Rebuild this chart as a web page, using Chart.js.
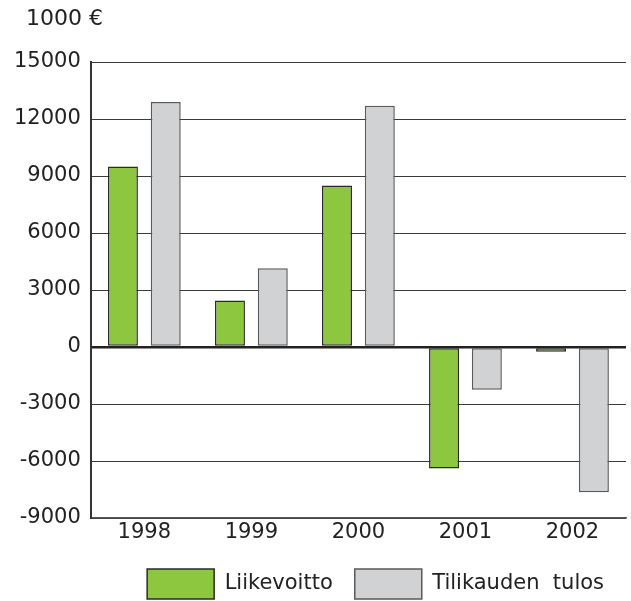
<!DOCTYPE html>
<html>
<head>
<meta charset="utf-8">
<script src="https://cdn.jsdelivr.net/npm/chart.js@4"></script>
<style>
  body { margin: 0; background: #fff; }
  #wrap { position: relative; width: 631px; height: 601px; overflow: hidden; }
  #unit { position: absolute; left: 26px; top: 5px; font: 22px "DejaVu Sans"; color: #222; }
</style>
</head>
<body>
<div id="wrap">
  <div id="unit">1000 €</div>
  <canvas id="chart" width="631" height="601"></canvas>
</div>
<script>
const years = ['1998', '1999', '2000', '2001', '2002'];
const liikevoitto = [9500, 2450, 8500, -6400, -250];
const tilikaudenTulos = [12900, 4150, 12700, -2250, -7650];
const yTicks = [-9000, -6000, -3000, 0, 3000, 6000, 9000, 12000, 15000];

const ctx = document.getElementById('chart').getContext('2d');
const chart = new Chart(ctx, {
    type: 'bar',
    data: {
        labels: years,
        datasets: [
            {
                label: 'Liikevoitto',
                data: liikevoitto,
                backgroundColor: '#8dc63f',
                borderColor: '#2a2a2a',
                borderWidth: 1.5,
                borderSkipped: false
            },
            {
                label: 'Tilikauden  tulos',
                data: tilikaudenTulos,
                backgroundColor: '#d1d2d4',
                borderColor: '#5a5a5a',
                borderWidth: 1.5,
                borderSkipped: false
            }
        ]
    },
    options: {
        responsive: false,
        animation: false,
        layout: { padding: { top: 62, right: 5, left: 4, bottom: -8 } },
        datasets: {
            bar: { categoryPercentage: 0.8, barPercentage: 0.7 }
        },
        scales: {
            x: {
                grid: { display: false, drawTicks: false },
                border: { color: '#555', width: 1.5 },
                ticks: { color: '#222', font: { family: 'DejaVu Sans', size: 21, lineHeight: 1 }, padding: 4 }
            },
            y: {
                min: -9000,
                max: 15000,
                afterBuildTicks: axis => { axis.ticks = yTicks.map(v => ({ value: v })); },
                grid: {
                    color: ctx => ctx.tick && ctx.tick.value === 0 ? '#222' : '#3a3a3a',
                    lineWidth: ctx => ctx.tick && ctx.tick.value === 0 ? 2.5 : 1,
                    drawTicks: false
                },
                border: { color: '#333', width: 2 },
                ticks: {
                    color: '#222',
                    font: { family: 'DejaVu Sans', size: 21 },
                    padding: 10,
                    callback: v => String(v)
                }
            }
        },
        plugins: {
            legend: {
                position: 'bottom',
                align: 'end',
                labels: {
                    boxWidth: 67,
                    boxHeight: 30,
                    padding: 22,
                    color: '#222',
                    font: { family: 'DejaVu Sans', size: 21 }
                }
            },
            tooltip: { enabled: false }
        }
    }
});
</script>
</body>
</html>
